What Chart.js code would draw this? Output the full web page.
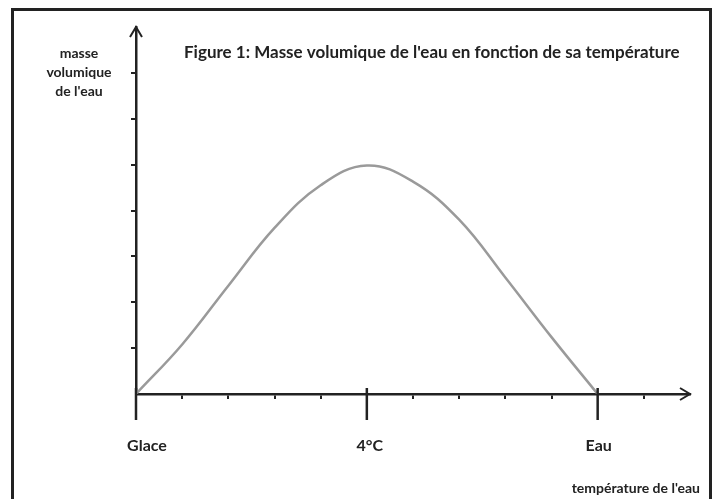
<!DOCTYPE html>
<html lang="fr">
<head>
  <meta charset="UTF-8" />
  <title>Masse volumique de l'eau</title>
  <script src="https://cdn.jsdelivr.net/npm/chart.js"></script>
  <style>
    html, body {
      margin: 0;
      padding: 0;
      background: #ffffff;
    }
    .cadre {
      position: absolute;
      left: 11px;
      top: 8px;
      width: 695px;
      height: 520px;
      border: 3px solid #222;
    }
    .zone {
      position: absolute;
      left: 0;
      top: 0;
      width: 715px;
      height: 499px;
    }
  </style>
</head>
<body>
  <div class="cadre"></div>
  <div class="zone">
    <canvas id="graphique"></canvas>
  </div>

  <script>
    // températures (en graduations) et masse volumique relative
    const temperatures = [0, 1, 2, 3, 4, 5, 6, 7, 8, 9, 10];
    const masseVolumique = [0, 1.08, 2.36, 3.62, 4.55, 4.98, 4.63, 3.8, 2.54, 1.24, 0];

    // graduations des axes
    const xPetitesGrad = [1, 2, 3, 4, 6, 7, 8, 9, 11];
    const xGrandesGrad = [0, 5, 10];
    const xEtiquettes = ['Glace', '4°C', 'Eau'];
    const yGrad = [1, 2, 3, 4, 5, 6, 7];

    const titre = "Figure 1: Masse volumique de l'eau en fonction de sa température";
    const titreY = ['masse', 'volumique', "de l'eau"];
    const titreX = "température de l'eau";

    const encre = '#222';

    const decor = {
      id: 'decor',
      afterDraw(chart) {
        const ctx = chart.ctx;
        const sx = chart.scales.x, sy = chart.scales.y;
        const y0 = sy.getPixelForValue(0);
        ctx.save();
        ctx.strokeStyle = encre;
        ctx.fillStyle = encre;
        ctx.lineCap = 'butt';

        // grandes graduations
        ctx.lineWidth = 2.5;
        xGrandesGrad.forEach(v => {
          const px = sx.getPixelForValue(v);
          ctx.beginPath();
          ctx.moveTo(px, y0 - 6);
          ctx.lineTo(px, y0 + 26);
          ctx.stroke();
        });

        // flèches
        ctx.lineWidth = 2;
        const xf = sx.getPixelForValue(sx.max);
        ctx.beginPath();
        ctx.moveTo(xf - 10, y0 - 6);
        ctx.lineTo(xf, y0);
        ctx.lineTo(xf - 10, y0 + 6);
        ctx.stroke();
        const x0 = sx.getPixelForValue(0);
        const yf = sy.getPixelForValue(sy.max);
        ctx.beginPath();
        ctx.moveTo(x0 - 6, yf + 10);
        ctx.lineTo(x0, yf);
        ctx.lineTo(x0 + 6, yf + 10);
        ctx.stroke();

        // étiquettes de l'axe x
        ctx.textAlign = 'center';
        ctx.textBaseline = 'middle';
        ctx.font = 'bold 16px Lato';
        xGrandesGrad.forEach((v, i) => {
          const dx = i === 0 ? 11 : (i === 1 ? 3 : 1);
          ctx.fillText(xEtiquettes[i], sx.getPixelForValue(v) + dx, y0 + 52);
        });

        // titre
        ctx.textAlign = 'left';
        ctx.font = 'bold 17px Lato';
        ctx.fillText(titre, 184, 53, 500);

        // titre axe y
        ctx.textAlign = 'center';
        ctx.font = 'bold 14px Lato';
        titreY.forEach((t, i) => ctx.fillText(t, 79, 53 + i * 19));

        // titre axe x
        ctx.textAlign = 'right';
        ctx.font = 'bold 14px Lato';
        ctx.fillText(titreX, 700, 488);

        ctx.restore();
      }
    };

    new Chart(document.getElementById('graphique'), {
      type: 'line',
      data: {
        datasets: [{
          data: temperatures.map((t, i) => ({ x: t, y: masseVolumique[i] })),
          borderColor: '#9a9a9a',
          borderWidth: 2.5,
          pointRadius: 0,
          tension: 0.4,
          fill: false
        }]
      },
      options: {
        responsive: true,
        maintainAspectRatio: false,
        animation: false,
        layout: { padding: { left: 136, top: 27, right: 25, bottom: 105 } },
        plugins: {
          legend: { display: false },
          tooltip: { enabled: false }
        },
        scales: {
          x: {
            type: 'linear',
            min: 0,
            max: 12,
            afterFit: s => { s.height = 0; },
            ticks: { display: false, stepSize: 1 },
            border: { display: true, color: encre, width: 2.5 },
            grid: {
              drawOnChartArea: false,
              drawTicks: true,
              tickLength: 5,
              lineWidth: 2,
              color: c => xPetitesGrad.includes(c.tick && c.tick.value) ? encre : 'rgba(0,0,0,0)'
            }
          },
          y: {
            min: 0,
            max: 8,
            afterFit: s => { s.width = 0; },
            ticks: { display: false, stepSize: 1 },
            border: { display: true, color: encre, width: 2.5 },
            grid: {
              drawOnChartArea: false,
              drawTicks: true,
              tickLength: 5,
              lineWidth: 2,
              color: c => yGrad.includes(c.tick && c.tick.value) ? encre : 'rgba(0,0,0,0)'
            }
          }
        }
      },
      plugins: [decor]
    });
  </script>
</body>
</html>
